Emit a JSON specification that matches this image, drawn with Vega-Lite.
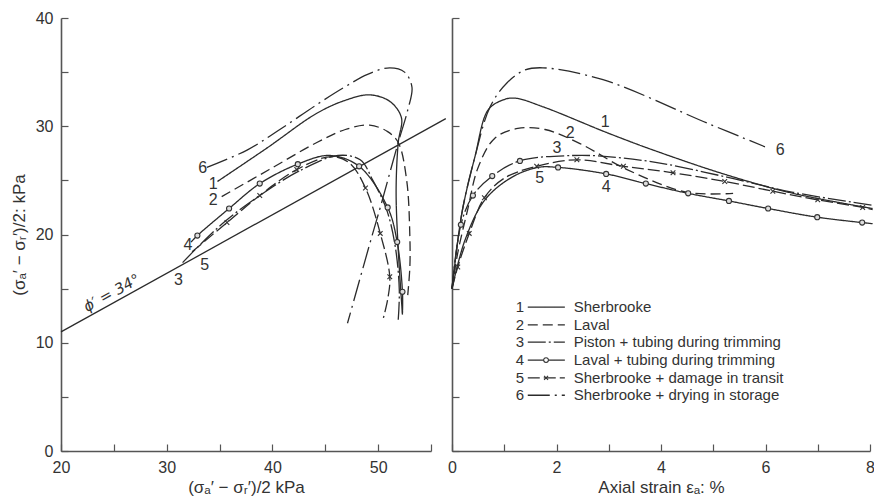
{
  "$schema": "https://vega.github.io/schema/vega-lite/v6.json",
  "autosize": {"type": "pad"},
  "padding": {"left": 10, "top": 10, "right": 0, "bottom": 2},
  "background": "white",
  "spacing": 21,
  "bounds": "flush",
  "config": {
    "font": "Liberation Sans",
    "view": {"stroke": null},
    "axis": {
      "grid": false,
      "domainColor": "#555",
      "domainWidth": 1.6,
      "tickColor": "#555",
      "tickWidth": 1.2,
      "tickSize": -7,
      "labelFont": "Liberation Sans",
      "labelFontSize": 16,
      "labelColor": "#333",
      "labelPadding": 15,
      "labelFlush": false,
      "labelOverlap": false,
      "titleFont": "Liberation Sans",
      "titleFontSize": 17,
      "titleFontWeight": "normal",
      "titleColor": "#333"
    },
    "text": {"font": "Liberation Sans", "color": "#333"}
  },
  "datasets": {
    "stressPaths": [
      {"c": "1", "i": 0, "x": 34.8, "y": 24.9, "m": ""},
      {"c": "1", "i": 1, "x": 39.5, "y": 28.0, "m": ""},
      {"c": "1", "i": 2, "x": 44.2, "y": 31.2, "m": ""},
      {"c": "1", "i": 3, "x": 46.9, "y": 32.4, "m": ""},
      {"c": "1", "i": 4, "x": 49.2, "y": 32.9, "m": ""},
      {"c": "1", "i": 5, "x": 51.1, "y": 32.3, "m": ""},
      {"c": "1", "i": 6, "x": 52.2, "y": 30.8, "m": ""},
      {"c": "1", "i": 7, "x": 51.9, "y": 28.5, "m": ""},
      {"c": "1", "i": 8, "x": 51.7, "y": 24.1, "m": ""},
      {"c": "1", "i": 9, "x": 51.9, "y": 18.6, "m": ""},
      {"c": "1", "i": 10, "x": 52.3, "y": 12.6, "m": ""},

      {"c": "2", "i": 0, "x": 35.2, "y": 23.5, "m": ""},
      {"c": "2", "i": 1, "x": 39.7, "y": 26.0, "m": ""},
      {"c": "2", "i": 2, "x": 44.2, "y": 28.5, "m": ""},
      {"c": "2", "i": 3, "x": 46.9, "y": 29.7, "m": ""},
      {"c": "2", "i": 4, "x": 49.2, "y": 30.1, "m": ""},
      {"c": "2", "i": 5, "x": 50.9, "y": 29.5, "m": ""},
      {"c": "2", "i": 6, "x": 51.9, "y": 28.5, "m": ""},
      {"c": "2", "i": 7, "x": 52.7, "y": 25.0, "m": ""},
      {"c": "2", "i": 8, "x": 53.0, "y": 19.8, "m": ""},
      {"c": "2", "i": 9, "x": 53.0, "y": 17.0, "m": ""},
      {"c": "2", "i": 10, "x": 52.8, "y": 14.4, "m": ""},

      {"c": "3", "i": 0, "x": 31.5, "y": 17.4, "m": ""},
      {"c": "3", "i": 1, "x": 33.1, "y": 19.0, "m": ""},
      {"c": "3", "i": 2, "x": 35.5, "y": 21.2, "m": ""},
      {"c": "3", "i": 3, "x": 38.8, "y": 23.6, "m": ""},
      {"c": "3", "i": 4, "x": 42.6, "y": 25.9, "m": ""},
      {"c": "3", "i": 5, "x": 46.2, "y": 27.3, "m": ""},
      {"c": "3", "i": 6, "x": 48.3, "y": 26.9, "m": ""},
      {"c": "3", "i": 7, "x": 49.5, "y": 25.0, "m": ""},
      {"c": "3", "i": 8, "x": 50.8, "y": 22.3, "m": ""},
      {"c": "3", "i": 9, "x": 51.6, "y": 19.0, "m": ""},
      {"c": "3", "i": 10, "x": 52.0, "y": 14.9, "m": ""},
      {"c": "3", "i": 11, "x": 51.9, "y": 12.1, "m": ""},

      {"c": "4", "i": 0, "x": 32.3, "y": 19.3, "m": ""},
      {"c": "4", "i": 1, "x": 32.9, "y": 19.9, "m": "o"},
      {"c": "4", "i": 2, "x": 35.9, "y": 22.4, "m": "o"},
      {"c": "4", "i": 3, "x": 38.8, "y": 24.7, "m": "o"},
      {"c": "4", "i": 4, "x": 42.4, "y": 26.5, "m": "o"},
      {"c": "4", "i": 5, "x": 45.4, "y": 27.3, "m": ""},
      {"c": "4", "i": 6, "x": 48.2, "y": 26.3, "m": "o"},
      {"c": "4", "i": 7, "x": 50.9, "y": 22.5, "m": "o"},
      {"c": "4", "i": 8, "x": 51.8, "y": 19.3, "m": "o"},
      {"c": "4", "i": 9, "x": 52.3, "y": 14.7, "m": "o"},
      {"c": "4", "i": 10, "x": 52.3, "y": 12.7, "m": ""},

      {"c": "5", "i": 0, "x": 32.4, "y": 18.4, "m": ""},
      {"c": "5", "i": 1, "x": 35.7, "y": 21.1, "m": "x"},
      {"c": "5", "i": 2, "x": 38.8, "y": 23.6, "m": "x"},
      {"c": "5", "i": 3, "x": 42.3, "y": 26.0, "m": "x"},
      {"c": "5", "i": 4, "x": 45.6, "y": 27.2, "m": ""},
      {"c": "5", "i": 5, "x": 47.3, "y": 26.6, "m": ""},
      {"c": "5", "i": 6, "x": 48.8, "y": 24.3, "m": "x"},
      {"c": "5", "i": 7, "x": 50.2, "y": 20.1, "m": "x"},
      {"c": "5", "i": 8, "x": 51.1, "y": 16.1, "m": "x"},
      {"c": "5", "i": 9, "x": 50.9, "y": 14.0, "m": ""},
      {"c": "5", "i": 10, "x": 50.5, "y": 12.3, "m": ""},

      {"c": "6", "i": 0, "x": 33.8, "y": 26.2, "m": ""},
      {"c": "6", "i": 1, "x": 37.6, "y": 27.8, "m": ""},
      {"c": "6", "i": 2, "x": 40.7, "y": 29.7, "m": ""},
      {"c": "6", "i": 3, "x": 44.2, "y": 32.0, "m": ""},
      {"c": "6", "i": 4, "x": 46.8, "y": 33.6, "m": ""},
      {"c": "6", "i": 5, "x": 49.0, "y": 34.8, "m": ""},
      {"c": "6", "i": 6, "x": 51.1, "y": 35.4, "m": ""},
      {"c": "6", "i": 7, "x": 52.5, "y": 35.0, "m": ""},
      {"c": "6", "i": 8, "x": 53.2, "y": 33.6, "m": ""},
      {"c": "6", "i": 9, "x": 52.8, "y": 31.5, "m": ""},
      {"c": "6", "i": 10, "x": 51.9, "y": 28.5, "m": ""},
      {"c": "6", "i": 11, "x": 50.2, "y": 22.5, "m": ""},
      {"c": "6", "i": 12, "x": 49.4, "y": 19.8, "m": ""},
      {"c": "6", "i": 13, "x": 47.1, "y": 11.8, "m": ""}
    ],
    "envelope": [
      {"x": 20.0, "y": 11.0},
      {"x": 56.4, "y": 30.7}
    ],
    "envelopeLabel": [
      {"x": 24.8, "y": 14.6, "t": "ϕ′ = 34°"}
    ],
    "pathLabels": [
      {"c": "6", "x": 33.4, "y": 26.1},
      {"c": "1", "x": 34.4, "y": 24.7},
      {"c": "2", "x": 34.4, "y": 23.2},
      {"c": "4", "x": 32.0, "y": 19.0},
      {"c": "3", "x": 31.1, "y": 15.8},
      {"c": "5", "x": 33.6, "y": 17.2}
    ],
    "strainCurves": [
      {"c": "1", "i": 0, "x": 0.0, "y": 15.0, "m": ""},
      {"c": "1", "i": 1, "x": 0.19, "y": 22.0, "m": ""},
      {"c": "1", "i": 2, "x": 0.44, "y": 27.2, "m": ""},
      {"c": "1", "i": 3, "x": 0.69, "y": 31.5, "m": ""},
      {"c": "1", "i": 4, "x": 0.96, "y": 32.4, "m": ""},
      {"c": "1", "i": 5, "x": 1.2, "y": 32.6, "m": ""},
      {"c": "1", "i": 6, "x": 1.74, "y": 31.8, "m": ""},
      {"c": "1", "i": 7, "x": 2.97, "y": 29.4, "m": ""},
      {"c": "1", "i": 8, "x": 3.85, "y": 27.8, "m": ""},
      {"c": "1", "i": 9, "x": 5.26, "y": 25.5, "m": ""},
      {"c": "1", "i": 10, "x": 6.53, "y": 23.8, "m": ""},
      {"c": "1", "i": 11, "x": 8.05, "y": 22.4, "m": ""},

      {"c": "2", "i": 0, "x": 0.0, "y": 15.0, "m": ""},
      {"c": "2", "i": 1, "x": 0.11, "y": 18.3, "m": ""},
      {"c": "2", "i": 2, "x": 0.3, "y": 22.3, "m": ""},
      {"c": "2", "i": 3, "x": 0.5, "y": 26.2, "m": ""},
      {"c": "2", "i": 4, "x": 0.82, "y": 28.9, "m": ""},
      {"c": "2", "i": 5, "x": 1.26, "y": 29.8, "m": ""},
      {"c": "2", "i": 6, "x": 1.78, "y": 29.7, "m": ""},
      {"c": "2", "i": 7, "x": 2.45, "y": 28.4, "m": ""},
      {"c": "2", "i": 8, "x": 3.35, "y": 26.0, "m": ""},
      {"c": "2", "i": 9, "x": 4.5, "y": 23.9, "m": ""},
      {"c": "2", "i": 10, "x": 5.38, "y": 23.8, "m": ""},

      {"c": "3", "i": 0, "x": 0.0, "y": 15.0, "m": ""},
      {"c": "3", "i": 1, "x": 0.17, "y": 20.9, "m": "o"},
      {"c": "3", "i": 2, "x": 0.4, "y": 23.6, "m": "o"},
      {"c": "3", "i": 3, "x": 0.77, "y": 25.4, "m": "o"},
      {"c": "3", "i": 4, "x": 1.3, "y": 26.8, "m": "o"},
      {"c": "3", "i": 5, "x": 2.32, "y": 27.3, "m": ""},
      {"c": "3", "i": 6, "x": 2.97, "y": 27.2, "m": ""},
      {"c": "3", "i": 7, "x": 3.98, "y": 26.6, "m": ""},
      {"c": "3", "i": 8, "x": 5.26, "y": 25.3, "m": ""},
      {"c": "3", "i": 9, "x": 6.53, "y": 23.9, "m": ""},
      {"c": "3", "i": 10, "x": 8.05, "y": 22.7, "m": ""},

      {"c": "4", "i": 0, "x": 0.0, "y": 15.0, "m": ""},
      {"c": "4", "i": 1, "x": 0.25, "y": 19.5, "m": ""},
      {"c": "4", "i": 2, "x": 0.63, "y": 23.2, "m": ""},
      {"c": "4", "i": 3, "x": 1.15, "y": 25.3, "m": ""},
      {"c": "4", "i": 4, "x": 1.65, "y": 26.2, "m": ""},
      {"c": "4", "i": 5, "x": 2.03, "y": 26.2, "m": "o"},
      {"c": "4", "i": 6, "x": 2.95, "y": 25.6, "m": "o"},
      {"c": "4", "i": 7, "x": 3.71, "y": 24.7, "m": "o"},
      {"c": "4", "i": 8, "x": 4.52, "y": 23.8, "m": "o"},
      {"c": "4", "i": 9, "x": 5.3, "y": 23.1, "m": "o"},
      {"c": "4", "i": 10, "x": 6.05, "y": 22.4, "m": "o"},
      {"c": "4", "i": 11, "x": 6.99, "y": 21.6, "m": "o"},
      {"c": "4", "i": 12, "x": 7.85, "y": 21.1, "m": "o"},
      {"c": "4", "i": 13, "x": 8.05, "y": 21.0, "m": ""},

      {"c": "5", "i": 0, "x": 0.0, "y": 15.0, "m": ""},
      {"c": "5", "i": 1, "x": 0.11, "y": 17.0, "m": "x"},
      {"c": "5", "i": 2, "x": 0.33, "y": 20.1, "m": "x"},
      {"c": "5", "i": 3, "x": 0.62, "y": 23.4, "m": "x"},
      {"c": "5", "i": 4, "x": 1.0, "y": 25.2, "m": ""},
      {"c": "5", "i": 5, "x": 1.62, "y": 26.3, "m": "x"},
      {"c": "5", "i": 6, "x": 2.39, "y": 26.9, "m": "x"},
      {"c": "5", "i": 7, "x": 3.28, "y": 26.3, "m": "x"},
      {"c": "5", "i": 8, "x": 4.23, "y": 25.7, "m": "x"},
      {"c": "5", "i": 9, "x": 5.22, "y": 24.9, "m": "x"},
      {"c": "5", "i": 10, "x": 6.14, "y": 24.0, "m": "x"},
      {"c": "5", "i": 11, "x": 7.0, "y": 23.2, "m": "x"},
      {"c": "5", "i": 12, "x": 7.86, "y": 22.5, "m": "x"},
      {"c": "5", "i": 13, "x": 8.05, "y": 22.3, "m": ""},

      {"c": "6", "i": 0, "x": 0.0, "y": 15.0, "m": ""},
      {"c": "6", "i": 1, "x": 0.19, "y": 22.0, "m": ""},
      {"c": "6", "i": 2, "x": 0.44, "y": 27.2, "m": ""},
      {"c": "6", "i": 3, "x": 0.73, "y": 31.8, "m": ""},
      {"c": "6", "i": 4, "x": 1.05, "y": 34.0, "m": ""},
      {"c": "6", "i": 5, "x": 1.4, "y": 35.2, "m": ""},
      {"c": "6", "i": 6, "x": 1.74, "y": 35.4, "m": ""},
      {"c": "6", "i": 7, "x": 2.89, "y": 34.3, "m": ""},
      {"c": "6", "i": 8, "x": 4.88, "y": 30.3, "m": ""},
      {"c": "6", "i": 9, "x": 5.99, "y": 28.1, "m": ""}
    ],
    "strainLabels": [
      {"c": "1", "x": 2.93, "y": 30.4},
      {"c": "2", "x": 2.26, "y": 29.4},
      {"c": "3", "x": 2.01, "y": 28.0},
      {"c": "4", "x": 2.95, "y": 24.4},
      {"c": "5", "x": 1.68, "y": 25.2},
      {"c": "6", "x": 6.28, "y": 27.8}
    ],
    "legendRows": [
      {"c": "1", "ky": 13.3, "name": "Sherbrooke", "m": ""},
      {"c": "2", "ky": 11.65, "name": "Laval", "m": ""},
      {"c": "3", "ky": 10.05, "name": "Piston + tubing during trimming", "m": ""},
      {"c": "4", "ky": 8.4, "name": "Laval + tubing during trimming", "m": "o"},
      {"c": "5", "ky": 6.75, "name": "Sherbrooke + damage in transit", "m": "x"},
      {"c": "6", "ky": 5.15, "name": "Sherbrooke + drying in storage", "m": ""}
    ]
  },
  "hconcat": [
    {
      "width": 370,
      "height": 433,
      "layer": [
        {
          "data": {"name": "envelope"},
          "mark": {"type": "line", "color": "#2b2b2b", "strokeWidth": 1.3},
          "encoding": {
            "x": {
              "field": "x", "type": "quantitative",
              "scale": {"domain": [20, 55], "nice": false},
              "axis": {
                "values": [20, 25, 30, 35, 40, 45, 50, 55],
                "labelExpr": "datum.value % 10 === 0 ? datum.label : ''",
                "title": "(σₐ′ − σᵣ′)/2 kPa",
                "titlePadding": 4
              }
            },
            "y": {
              "field": "y", "type": "quantitative",
              "scale": {"domain": [0, 40], "nice": false},
              "axis": {
                "values": [0, 5, 10, 15, 20, 25, 30, 35, 40],
                "labelExpr": "datum.value % 10 === 0 ? datum.label : ''",
                "title": "(σₐ′ − σᵣ′)/2: kPa",
                "titlePadding": 7
              }
            }
          }
        },
        {
          "data": {"name": "envelopeLabel"},
          "mark": {"type": "text", "angle": -29, "font": "DejaVu Sans", "fontSize": 15, "fontStyle": "italic", "align": "center", "baseline": "middle"},
          "encoding": {
            "x": {"field": "x", "type": "quantitative"},
            "y": {"field": "y", "type": "quantitative"},
            "text": {"field": "t"}
          }
        },
        {
          "data": {"name": "stressPaths"},
          "mark": {"type": "line", "interpolate": "catmull-rom", "color": "#2b2b2b", "strokeWidth": 1.3},
          "encoding": {
            "x": {"field": "x", "type": "quantitative"},
            "y": {"field": "y", "type": "quantitative"},
            "strokeDash": {
              "field": "c", "type": "nominal",
              "scale": {"domain": ["1", "2", "3", "4", "5", "6"], "range": [[1, 0], [10, 5], [18, 3, 2, 3], [1, 0], [12, 4], [22, 5, 2, 5]]},
              "legend": null
            },
            "order": {"field": "i", "type": "quantitative"}
          }
        },
        {
          "data": {"name": "stressPaths"},
          "transform": [{"filter": "datum.m === 'o'"}],
          "mark": {"type": "point", "shape": "circle", "size": 26, "filled": true, "fill": "#ddd", "stroke": "#333", "strokeWidth": 1.1, "opacity": 1},
          "encoding": {
            "x": {"field": "x", "type": "quantitative"},
            "y": {"field": "y", "type": "quantitative"}
          }
        },
        {
          "data": {"name": "stressPaths"},
          "transform": [{"filter": "datum.m === 'x'"}],
          "mark": {"type": "point", "shape": "M-1,-1L1,1M-1,1L1,-1", "size": 22, "filled": false, "stroke": "#333", "strokeWidth": 1.1, "opacity": 1},
          "encoding": {
            "x": {"field": "x", "type": "quantitative"},
            "y": {"field": "y", "type": "quantitative"}
          }
        },
        {
          "data": {"name": "pathLabels"},
          "mark": {"type": "text", "fontSize": 16, "align": "center", "baseline": "middle"},
          "encoding": {
            "x": {"field": "x", "type": "quantitative"},
            "y": {"field": "y", "type": "quantitative"},
            "text": {"field": "c"}
          }
        }
      ]
    },
    {
      "width": 418,
      "height": 433,
      "layer": [
        {
          "data": {"name": "strainCurves"},
          "mark": {"type": "line", "interpolate": "catmull-rom", "color": "#2b2b2b", "strokeWidth": 1.3},
          "encoding": {
            "x": {
              "field": "x", "type": "quantitative",
              "scale": {"domain": [0, 8], "nice": false},
              "axis": {
                "values": [0, 1, 2, 3, 4, 5, 6, 7, 8],
                "labelExpr": "datum.value % 2 === 0 ? datum.label : ''",
                "title": "Axial strain εₐ: %",
                "titlePadding": 4
              }
            },
            "y": {
              "field": "y", "type": "quantitative",
              "scale": {"domain": [0, 40], "nice": false},
              "axis": {
                "values": [0, 5, 10, 15, 20, 25, 30, 35, 40],
                "labels": false,
                "title": null
              }
            },
            "strokeDash": {
              "field": "c", "type": "nominal",
              "scale": {"domain": ["1", "2", "3", "4", "5", "6"], "range": [[1, 0], [10, 5], [18, 3, 2, 3], [1, 0], [12, 4], [22, 5, 2, 5]]},
              "legend": null
            },
            "order": {"field": "i", "type": "quantitative"}
          }
        },
        {
          "data": {"name": "strainCurves"},
          "transform": [{"filter": "datum.m === 'o'"}],
          "mark": {"type": "point", "shape": "circle", "size": 26, "filled": true, "fill": "#ddd", "stroke": "#333", "strokeWidth": 1.1, "opacity": 1},
          "encoding": {
            "x": {"field": "x", "type": "quantitative"},
            "y": {"field": "y", "type": "quantitative"}
          }
        },
        {
          "data": {"name": "strainCurves"},
          "transform": [{"filter": "datum.m === 'x'"}],
          "mark": {"type": "point", "shape": "M-1,-1L1,1M-1,1L1,-1", "size": 22, "filled": false, "stroke": "#333", "strokeWidth": 1.1, "opacity": 1},
          "encoding": {
            "x": {"field": "x", "type": "quantitative"},
            "y": {"field": "y", "type": "quantitative"}
          }
        },
        {
          "data": {"name": "strainLabels"},
          "mark": {"type": "text", "fontSize": 16, "align": "center", "baseline": "middle"},
          "encoding": {
            "x": {"field": "x", "type": "quantitative"},
            "y": {"field": "y", "type": "quantitative"},
            "text": {"field": "c"}
          }
        },
        {
          "data": {"name": "legendRows"},
          "mark": {"type": "text", "fontSize": 15, "align": "right", "baseline": "middle"},
          "encoding": {
            "x": {"datum": 1.38, "type": "quantitative"},
            "y": {"field": "ky", "type": "quantitative"},
            "text": {"field": "c"}
          }
        },
        {
          "data": {"name": "legendRows"},
          "mark": {"type": "rule", "color": "#2b2b2b", "strokeWidth": 1.3},
          "encoding": {
            "x": {"datum": 1.45, "type": "quantitative"},
            "x2": {"datum": 2.16},
            "y": {"field": "ky", "type": "quantitative"},
            "strokeDash": {
              "field": "c", "type": "nominal",
              "scale": {"domain": ["1", "2", "3", "4", "5", "6"], "range": [[1, 0], [10, 5], [18, 3, 2, 3], [1, 0], [12, 4], [22, 5, 2, 5]]},
              "legend": null
            }
          }
        },
        {
          "data": {"name": "legendRows"},
          "transform": [{"filter": "datum.m === 'o'"}],
          "mark": {"type": "point", "shape": "circle", "size": 22, "filled": true, "fill": "white", "stroke": "#333", "strokeWidth": 1.1, "opacity": 1},
          "encoding": {
            "x": {"datum": 1.8, "type": "quantitative"},
            "y": {"field": "ky", "type": "quantitative"}
          }
        },
        {
          "data": {"name": "legendRows"},
          "transform": [{"filter": "datum.m === 'x'"}],
          "mark": {"type": "point", "shape": "M-1,-1L1,1M-1,1L1,-1", "size": 16, "filled": false, "stroke": "#333", "strokeWidth": 1.1, "opacity": 1},
          "encoding": {
            "x": {"datum": 1.8, "type": "quantitative"},
            "y": {"field": "ky", "type": "quantitative"}
          }
        },
        {
          "data": {"name": "legendRows"},
          "mark": {"type": "text", "fontSize": 15, "align": "left", "baseline": "middle"},
          "encoding": {
            "x": {"datum": 2.33, "type": "quantitative"},
            "y": {"field": "ky", "type": "quantitative"},
            "text": {"field": "name"}
          }
        }
      ]
    }
  ]
}
